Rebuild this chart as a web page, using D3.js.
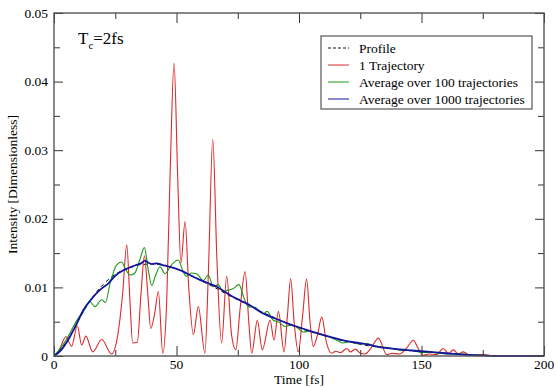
<!DOCTYPE html>
<html>
<head>
<meta charset="utf-8">
<title>Intensity profile</title>
<script src="https://d3js.org/d3.v7.min.js"></script>
<style>
  html, body { margin: 0; padding: 0; background: #fff; }
  svg { display: block; }
</style>
</head>
<body>
<div id="chart"></div>
<script>
// time [fs] vs intensity
var profile = [[0,0],[5,0.0020],[10,0.0052],[15,0.0082],[20,0.0104],[25,0.0119],[30,0.0128],[35,0.0133],
  [40,0.0134],[45,0.0132],[50,0.0127],[55,0.0119],[60,0.0110],[65,0.0101],[70,0.0091],[75,0.0082],
  [80,0.0073],[85,0.0064],[90,0.0056],[95,0.0048],[100,0.0041],[105,0.0035],[110,0.0030],[115,0.0025],
  [120,0.0021],[125,0.0017],[130,0.0014],[135,0.0012],[140,0.0010],[145,0.0008],[150,0.0006],[155,0.0005],
  [160,0.0004],[165,0.0003],[170,0.0002],[175,0.0001],[180,0.00005],[190,0],[200,0]];

var oneTraj = [[0,0],[2,0.0008],[4.9,0.0028],[7.2,0.0014],[9.5,0.0044],[11.3,0.0016],[13,0.0029],[15.8,0.0006],
  [19.5,0.0024],[23.5,0.0003],[26,0.003],[28,0.009],[29.7,0.0162],[31,0.008],[32.1,0.0019],[34,0.002],
  [35.5,0.009],[36.9,0.0146],[38.3,0.009],[39.5,0.004],[41,0.006],[42.6,0.0094],[44.4,0.0004],[46,0.008],
  [47.5,0.028],[49,0.0427],[50.5,0.026],[51.8,0.0135],[53.5,0.0196],[55,0.010],[56.9,0.0031],[58.9,0.0072],
  [61.6,0.0004],[63,0.012],[64.8,0.0316],[66.5,0.014],[68.4,0.0019],[70.5,0.0116],[72.5,0.003],[74.2,0.0009],
  [76,0.007],[78,0.0123],[79.5,0.005],[80.7,0.0004],[83,0.0052],[85,0.0009],[88.2,0.0052],[89.8,0.0023],
  [91.6,0.0065],[93.9,0.0006],[95.3,0.006],[96.6,0.0113],[98,0.005],[99.7,0.0006],[101.5,0.006],[103.1,0.0112],
  [104.5,0.005],[105.8,0.0014],[107.5,0.003],[109.3,0.0057],[111.2,0.002],[113.3,0.0004],[115,0.0007],
  [117,0.0005],[119.5,0.0011],[121,0.0006],[123,0.001],[125,0.0004],[127,0.0003],[129.5,0.0012],[132.4,0.0026],
  [135.8,0.0002],[138,0.0004],[141,0.0003],[144,0.0012],[146.7,0.0023],[148.5,0.0012],[150.7,0.0001],
  [153,0.0003],[156,0.0002],[158.9,0.0011],[161,0.0004],[163,0.0009],[165,0.0003],[167,0.0006],[170,0.0001],
  [175,0.0002],[180,0],[200,0]];

var avg100 = [[0,0],[3,0.0013],[6,0.003],[9.5,0.0053],[12,0.0065],[14.7,0.0079],[16.7,0.0072],[19.5,0.0082],
  [21,0.0078],[22.9,0.0106],[25.6,0.0133],[27.6,0.0137],[29,0.0128],[31,0.0118],[33,0.0121],[35,0.014],
  [36.9,0.0158],[38.5,0.0125],[39.9,0.0103],[41.5,0.0118],[43.3,0.013],[45.3,0.012],[48,0.0133],[50.7,0.014],
  [52.5,0.0125],[54.1,0.0116],[56,0.0121],[58.2,0.012],[61,0.011],[63,0.0118],[65,0.0101],[67,0.0104],
  [69,0.0094],[71,0.0096],[73,0.0098],[75.5,0.0104],[77.5,0.0085],[79.3,0.0072],[82,0.0071],[85.4,0.0062],
  [87,0.0065],[89.5,0.0052],[92,0.0049],[94.3,0.0043],[97,0.0045],[99,0.0042],[101.8,0.0035],[104,0.0036],
  [107,0.0034],[110,0.003],[113,0.0027],[116,0.0022],[118,0.0019],[121,0.0021],[124,0.0018],[127.6,0.0018],
  [131,0.0014],[134,0.0013],[138,0.0011],[142.6,0.0008],[146,0.0008],[150,0.0005],[155,0.0005],[160,0.0003],
  [165,0.0003],[170,0.0002],[175,0.0001],[180,0],[200,0]];

var avg1000 = [[0,0],[3,0.0009],[6.5,0.0028],[9,0.0045],[12,0.0067],[16,0.0086],[19,0.0097],[22.2,0.0106],
  [25,0.0117],[28.3,0.0125],[31,0.0129],[33.7,0.0133],[35.5,0.0135],[37.1,0.0139],[38.5,0.0136],[40,0.0134],
  [42,0.0135],[44,0.0133],[47.3,0.013],[50,0.0127],[52.8,0.0123],[56,0.0117],[59.6,0.0111],[63,0.0106],
  [66.4,0.0101],[70,0.0093],[73.2,0.0086],[76,0.0081],[80,0.0074],[85.4,0.0062],[90,0.0055],[95,0.0048],
  [99,0.0043],[105,0.0036],[112.7,0.0028],[119,0.0022],[126.2,0.0018],[133,0.0013],[139.9,0.001],[146,0.0008],
  [153.5,0.0006],[160,0.0004],[167,0.0002],[174,0.0001],[180,0],[200,0]];

var xTicks = [0, 50, 100, 150, 200];
var yTicks = [0, 0.01, 0.02, 0.03, 0.04, 0.05];
var yTickLabels = ["0", "0.01", "0.02", "0.03", "0.04", "0.05"];
var legendNames = ["Profile", "1 Trajectory", "Average over 100 trajectories", "Average over 1000 trajectories"];

var W = 556, H = 388;
var margin = {top: 13, right: 12, bottom: 32, left: 54};
var iw = W - margin.left - margin.right, ih = H - margin.top - margin.bottom;
var serif = "'Liberation Serif', 'Times New Roman', Times, 'DejaVu Serif', serif";

var svg = d3.select("#chart").append("svg").attr("width", W).attr("height", H)
  .attr("font-family", serif).style("font-family", serif);
var g = svg.append("g").attr("transform", "translate(" + margin.left + "," + margin.top + ")");

var x = d3.scaleLinear().domain([0, 200]).range([0, iw]);
var y = d3.scaleLinear().domain([0, 0.05]).range([ih, 0]);

var line = d3.line()
  .x(function(d){ return x(d[0]); })
  .y(function(d){ return y(d[1]); })
  .curve(d3.curveMonotoneX);

var series = [
  {data: profile, color: "#111", width: 1, dash: "4,3"},
  {data: oneTraj, color: "#dd2a2a", width: 1.1, dash: null},
  {data: avg100, color: "#1a9a1a", width: 1.1, dash: null},
  {data: avg1000, color: "#14149e", width: 1.8, dash: null}
];

g.append("g").selectAll("path").data(series).enter()
  .append("path")
  .attr("d", function(d){ return line(d.data); })
  .attr("fill", "none")
  .attr("stroke", function(d){ return d.color; })
  .attr("stroke-width", function(d){ return d.width; })
  .attr("stroke-dasharray", function(d){ return d.dash; });

// ticks on all four sides, pointing in
var xMinor = d3.range(25, 200, 50), yMinor = d3.range(0.005, 0.05, 0.01);
function inTicks(axis, vals, size) {
  return axis.tickValues(vals).tickSize(-size).tickFormat("");
}
g.append("g").attr("class", "tk").attr("transform", "translate(0," + ih + ")").call(inTicks(d3.axisBottom(x), xTicks, 10));
g.append("g").attr("class", "tk").call(inTicks(d3.axisTop(x), xTicks, 10));
g.append("g").attr("class", "tk").attr("transform", "translate(0," + ih + ")").call(inTicks(d3.axisBottom(x), xMinor, 6));
g.append("g").attr("class", "tk").call(inTicks(d3.axisTop(x), xMinor, 6));
g.append("g").attr("class", "tk").call(inTicks(d3.axisLeft(y), yTicks, 9));
g.append("g").attr("class", "tk").call(inTicks(d3.axisLeft(y), yMinor, 6));
g.append("g").attr("class", "tk").attr("transform", "translate(" + iw + ",0)").call(inTicks(d3.axisRight(y), yTicks, 9));
g.append("g").attr("class", "tk").attr("transform", "translate(" + iw + ",0)").call(inTicks(d3.axisRight(y), yMinor, 6));
g.selectAll(".tk .domain").remove();
g.selectAll(".tk line").attr("stroke", "#333").attr("stroke-width", 1);

g.append("rect").attr("width", iw).attr("height", ih)
  .attr("fill", "none").attr("stroke", "#555").attr("stroke-width", 1.4);

// tick labels
g.selectAll(".xl").data(xTicks).enter().append("text")
  .attr("x", function(d){ return x(d); }).attr("y", ih + 13)
  .attr("text-anchor", "middle").attr("font-size", 13.5).text(function(d){ return d; });
g.selectAll(".yl").data(yTicks).enter().append("text")
  .attr("x", -6).attr("y", function(d){ return y(d) + 4.5; })
  .attr("text-anchor", "end").attr("font-size", 13.5).text(function(d, i){ return yTickLabels[i]; });

svg.append("text").attr("x", margin.left + iw / 2).attr("y", H - 4)
  .attr("text-anchor", "middle").attr("font-size", 13.5).text("Time [fs]");
svg.append("text").attr("transform", "translate(17," + (margin.top + ih / 2) + ") rotate(-90)")
  .attr("text-anchor", "middle").attr("font-size", 13.5).text("Intensity [Dimensionless]");

var tc = svg.append("text").attr("x", 78).attr("y", 44).attr("font-size", 17);
tc.append("tspan").text("T");
tc.append("tspan").attr("font-size", 11).attr("dy", 5).text("c");
tc.append("tspan").attr("dy", -5).text("=2fs");

// legend
var lg = svg.append("g").attr("transform", "translate(321,36)");
lg.append("rect").attr("width", 211).attr("height", 73)
  .attr("fill", "#fff").attr("stroke", "#555").attr("stroke-width", 1.2);
var items = lg.selectAll(".it").data(series).enter().append("g")
  .attr("transform", function(d, i){ return "translate(0," + (12 + i * 17) + ")"; });
items.append("line").attr("x1", 7).attr("x2", 28).attr("y1", 0).attr("y2", 0)
  .attr("stroke", function(d){ return d.color; })
  .attr("stroke-width", 1)
  .attr("stroke-dasharray", function(d){ return d.dash ? "3,2" : null; });
items.append("text").attr("x", 38).attr("y", 4.5).attr("font-size", 13.5)
  .text(function(d, i){ return legendNames[i]; });
</script>
</body>
</html>
